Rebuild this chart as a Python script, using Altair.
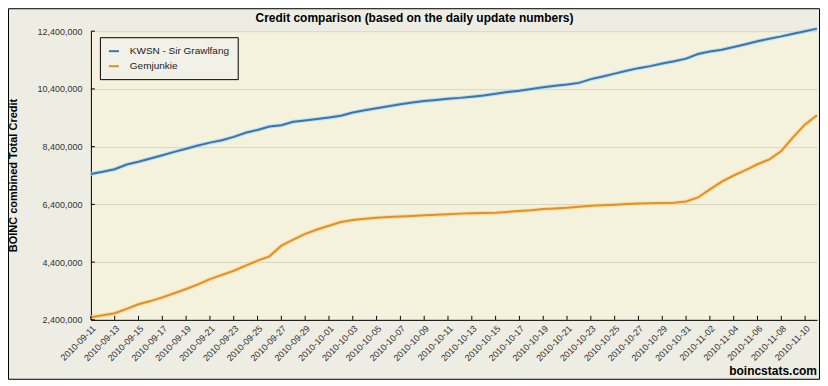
import altair as alt
import pandas as pd

chart_title = "Credit comparison (based on the daily update numbers)"
y_title = "BOINC combined Total Credit"
series_names = ["KWSN - Sir Grawlfang", "Gemjunkie"]
series_colors = ["#3D74AE", "#E0902C"]
halo_colors = ["#A9D9F2", "#FFD98F"]
start_date = "2010-09-11"
end_date = "2010-11-11"

# daily totals, in millions of credits
kwsn = [7.45, 7.53, 7.62, 7.78, 7.88, 7.99, 8.10, 8.22, 8.33, 8.44,
        8.54, 8.62, 8.74, 8.88, 8.98, 9.10, 9.14, 9.26, 9.31, 9.36,
        9.41, 9.47, 9.58, 9.66, 9.73, 9.80, 9.87, 9.93, 9.98, 10.02,
        10.06, 10.09, 10.13, 10.17, 10.23, 10.29, 10.34, 10.40, 10.46, 10.51,
        10.55, 10.61, 10.74, 10.83, 10.93, 11.03, 11.12, 11.19, 11.28, 11.36,
        11.45, 11.61, 11.70, 11.76, 11.85, 11.95, 12.05, 12.14, 12.22, 12.31,
        12.40, 12.49]
gemjunkie = [2.49, 2.56, 2.63, 2.78, 2.94, 3.05, 3.18, 3.32, 3.47, 3.63,
             3.81, 3.96, 4.10, 4.28, 4.45, 4.60, 4.97, 5.18, 5.38, 5.53,
             5.66, 5.79, 5.86, 5.90, 5.94, 5.96, 5.98, 6.00, 6.02, 6.04,
             6.06, 6.08, 6.09, 6.10, 6.11, 6.14, 6.17, 6.20, 6.24, 6.26,
             6.28, 6.32, 6.35, 6.37, 6.39, 6.41, 6.43, 6.44, 6.45, 6.46,
             6.50, 6.64, 6.92, 7.19, 7.40, 7.59, 7.79, 7.96, 8.25, 8.73,
             9.17, 9.49]

y_ticks = [2400000, 4400000, 6400000, 8400000, 10400000, 12400000]
x_tick_dates = [
    "2010-09-11", "2010-09-13", "2010-09-15", "2010-09-17", "2010-09-19",
    "2010-09-21", "2010-09-23", "2010-09-25", "2010-09-27", "2010-09-29",
    "2010-10-01", "2010-10-03", "2010-10-05", "2010-10-07", "2010-10-09",
    "2010-10-11", "2010-10-13", "2010-10-15", "2010-10-17", "2010-10-19",
    "2010-10-21", "2010-10-23", "2010-10-25", "2010-10-27", "2010-10-29",
    "2010-10-31", "2010-11-02", "2010-11-04", "2010-11-06", "2010-11-08",
    "2010-11-10",
]

FONT = "Liberation Sans"

dates = pd.date_range(start_date, periods=len(kwsn), freq="D").strftime("%Y-%m-%d")
df = pd.concat([
    pd.DataFrame({"date": dates, "series": series_names[0], "credit": [v * 1e6 for v in kwsn]}),
    pd.DataFrame({"date": dates, "series": series_names[1], "credit": [v * 1e6 for v in gemjunkie]}),
], ignore_index=True)


def dt(s):
    t = pd.Timestamp(s)
    return alt.DateTime(year=t.year, month=t.month, date=t.day, utc=True)


x_scale = alt.Scale(type="utc", domain=[dt(start_date), dt(end_date)])
y_scale = alt.Scale(domain=[y_ticks[0], y_ticks[-1]], nice=False, zero=False)

x_axis = alt.Axis(
    values=[dt(d) for d in x_tick_dates], format="%Y-%m-%d", labelAngle=-45,
    labelFontSize=9, labelFont=FONT, labelColor="#333333", ticks=False,
    domainColor="#000000", grid=False, title=None, labelPadding=4,
    labelOverlap=False, labelBound=False,
)
y_axis = alt.Axis(
    values=y_ticks, format=",d", labelFontSize=9, labelFont=FONT,
    labelColor="#333333", ticks=False, domainColor="#000000", labelPadding=9,
    grid=True, gridColor="#D9D7C4", title=y_title, titleFont=FONT,
    titleFontSize=11, titleFontWeight="bold", titleColor="#000000",
    titleX=-77, titleY=144, titleAngle=270, titleAlign="center",
    titleBaseline="middle",
)
x_enc = alt.X("date:T", scale=x_scale, axis=x_axis)
y_enc = alt.Y("credit:Q", scale=y_scale, axis=y_axis)

base = alt.Chart(df)

halos = [
    base.transform_filter(alt.datum.series == name)
    .mark_line(strokeWidth=4, opacity=0.8)
    .encode(x=x_enc, y=y_enc, color=alt.value(c))
    for name, c in zip(series_names, halo_colors)
]

lines = base.mark_line(strokeWidth=2).encode(
    x=x_enc, y=y_enc,
    color=alt.Color(
        "series:N",
        scale=alt.Scale(domain=series_names, range=series_colors),
        sort=series_names,
        legend=alt.Legend(
            orient="none", legendX=9, legendY=6, direction="vertical", title=None,
            fillColor="#F2F1E8", strokeColor="#000000", padding=8,
            symbolType="stroke", symbolStrokeWidth=2, symbolSize=100,
            labelFontSize=10, labelFont=FONT, labelColor="#222222",
            rowPadding=4, labelOffset=10,
        ),
    ),
)

ytick_marks = alt.Chart(pd.DataFrame({"credit": y_ticks})).mark_rule(color="#000000").encode(
    y=y_enc, x=alt.value(0), x2=alt.value(4)
)
xtick_marks = alt.Chart(pd.DataFrame({"date": x_tick_dates})).mark_rule(color="#000000").encode(
    x=x_enc, y=alt.value(285), y2=alt.value(289)
)

dummy = pd.DataFrame({"a": [0]})
frame = alt.Chart(dummy).mark_rect(filled=False, stroke="#000000", strokeWidth=1).encode(
    x=alt.value(-82.5), x2=alt.value(729.5), y=alt.value(-22.5), y2=alt.value(348.5)
)
title_mark = alt.Chart(dummy).mark_text(
    text=chart_title, align="center", baseline="alphabetic",
    font=FONT, fontSize=12, fontWeight="bold", color="#000000",
).encode(x=alt.value(324), y=alt.value(-9))
credit_note = alt.Chart(dummy).mark_text(
    text="boincstats.com", align="right", baseline="alphabetic",
    font=FONT, fontSize=12, fontWeight="bold", color="#000000",
).encode(x=alt.value(727), y=alt.value(344))

chart = alt.layer(
    *halos, lines, ytick_marks, xtick_marks, frame, title_mark, credit_note
).properties(
    width=727, height=289,
    autosize=alt.AutoSizeParams(type="none"),
    padding={"left": 83, "top": 23, "right": 3, "bottom": 60},
    background="#EDEDE4",
).configure_view(fill="#F4F2DD", stroke=None)

chart.save("out.html", embed_options={"renderer": "svg", "actions": False})
